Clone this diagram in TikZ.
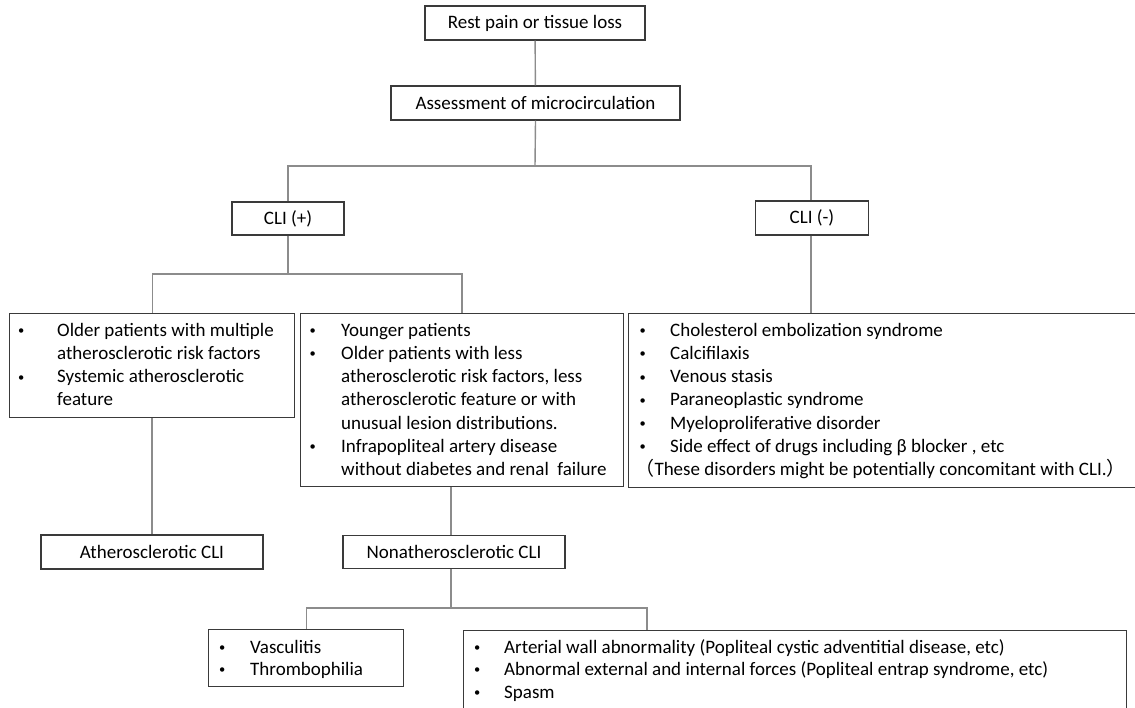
\documentclass[tikz,border=0pt]{standalone}
\usepackage{fontspec}
\setmainfont{Carlito}
\newfontfamily\cjk{Noto Sans CJK JP}
\usepackage{array}
\definecolor{boxline}{HTML}{3A3A3A}
\definecolor{connline}{HTML}{8C8C8C}
\tikzset{
  box/.style={draw=boxline, line width=1.4pt, rectangle, inner sep=0pt, font=\fontsize{19}{23.3}\selectfont, text=black},
  bigbox/.style={draw=boxline, line width=1.4pt, rectangle, inner sep=0pt, anchor=north west},
  conn/.style={draw=connline, line width=1.4pt},
  blist/.style={anchor=base west, inner sep=0pt, align=left, text=black},
}
\newcommand{\lsA}{\fontsize{19}{23.3}\selectfont}
\newcommand{\lsB}{\fontsize{19}{22.5}\selectfont}
\newcommand{\bul}{\hspace*{4.7pt}\makebox[0pt][c]{\raisebox{1.6pt}{\fontsize{12.5}{12.5}\selectfont\textbullet}}}
\begin{document}
\begin{tikzpicture}[x=1pt,y=-1pt]
\useasboundingbox (0,0) rectangle (1135,707);
\clip (0,0) rectangle (1135,707);
% top boxes
\node[box, minimum width=220pt, minimum height=34pt] (rest) at (535,23) {Rest pain or tissue loss};
\node[box, minimum width=289pt, minimum height=34pt] (assess) at (535.5,103) {Assessment of microcirculation};
\node[box, minimum width=112pt, minimum height=33pt] (cliplus) at (288,218.5) {CLI (+)};
\node[box, minimum width=113pt, minimum height=34pt] (climinus) at (812,218) {CLI (-)};
\node[box, minimum width=222pt, minimum height=34pt] (athero) at (152,552) {Atherosclerotic CLI};
\node[box, minimum width=222pt, minimum height=33pt] (nonathero) at (454,552) {Nonatherosclerotic CLI};
% big boxes
\node[bigbox, minimum width=285pt, minimum height=104pt] (lbox) at (9,313) {};
\node[bigbox, minimum width=323pt, minimum height=173pt] (mbox) at (300,313) {};
\node[bigbox, minimum width=520pt, minimum height=174pt] (rbox) at (628,313) {};
\node[bigbox, minimum width=195pt, minimum height=57pt] (vbox) at (208,629) {};
\node[bigbox, minimum width=663pt, minimum height=90pt] (abox) at (463,630) {};
% texts
\node[blist] (ltext) at (16.3,336) {\lsA\begin{tabular}[t]{@{}p{40.7pt}@{}l@{}}
\bul & Older patients with multiple\\
 & atherosclerotic risk factors\\
\bul & Systemic atherosclerotic\\
 & feature
\end{tabular}};
\node[blist] (mtext) at (307.8,336) {\lsA\begin{tabular}[t]{@{}p{33.2pt}@{}l@{}}
\bul & Younger patients\\
\bul & Older patients with less\\
 & atherosclerotic risk factors, less\\
 & atherosclerotic feature or with\\
 & unusual lesion distributions.\\
\bul & Infrapopliteal artery disease\\
 & without diabetes and renal\ \ failure
\end{tabular}};
\node[blist] (rtext) at (637.8,336) {\lsA\begin{tabular}[t]{@{}p{32.2pt}@{}l@{}}
\bul & Cholesterol embolization syndrome\\
\bul & Calcifilaxis\\
\bul & Venous stasis\\
\bul & Paraneoplastic syndrome\\
\bul & Myeloproliferative disorder\\
\bul & Side effect of drugs including β blocker , etc\\
\multicolumn{2}{@{}l@{}}{\hspace*{-2.5pt}{\cjk （}These disorders might be potentially concomitant with CLI.{\cjk ）}}
\end{tabular}};
\node[blist] (vtext) at (217.3,653) {\lsB\begin{tabular}[t]{@{}p{32.7pt}@{}l@{}}
\bul & Vasculitis\\
\bul & Thrombophilia
\end{tabular}};
\node[blist] (atext) at (472.3,653) {\lsB\begin{tabular}[t]{@{}p{31.7pt}@{}l@{}}
\bul & Arterial wall abnormality (Popliteal cystic adventitial disease, etc)\\
\bul & Abnormal external and internal forces (Popliteal entrap syndrome, etc)\\
\bul & Spasm
\end{tabular}};
% junctions
\coordinate (j1) at (535,166);
\coordinate (j2) at (288,274);
\coordinate (j3) at (462,274);
\coordinate (j5) at (811,274);
\coordinate (j4) at (451,608);
\coordinate (j6) at (647,608);
% connectors
\draw[conn] (rest) -- (assess);
\draw[conn] (assess.south) -- (j1);
\draw[conn] (cliplus.north) |- (j1) -| (j5 |- climinus.north);
\draw[conn] (cliplus.south) -- (j2);
\draw[conn] (lbox.north) |- (j3) -- (j3 |- mbox.north);
\draw[conn] (j5 |- climinus.south) -- (j5 |- rbox.north);
\draw[conn] (athero.north |- lbox.south) -- (athero.north);
\draw[conn] (j4 |- mbox.south) -- (j4 |- nonathero.north);
\draw[conn] (j4 |- nonathero.south) -- (j4);
\draw[conn] (vbox.north) |- (j4) -- (j6) -- (j6 |- abox.north);
\end{tikzpicture}
\end{document}
